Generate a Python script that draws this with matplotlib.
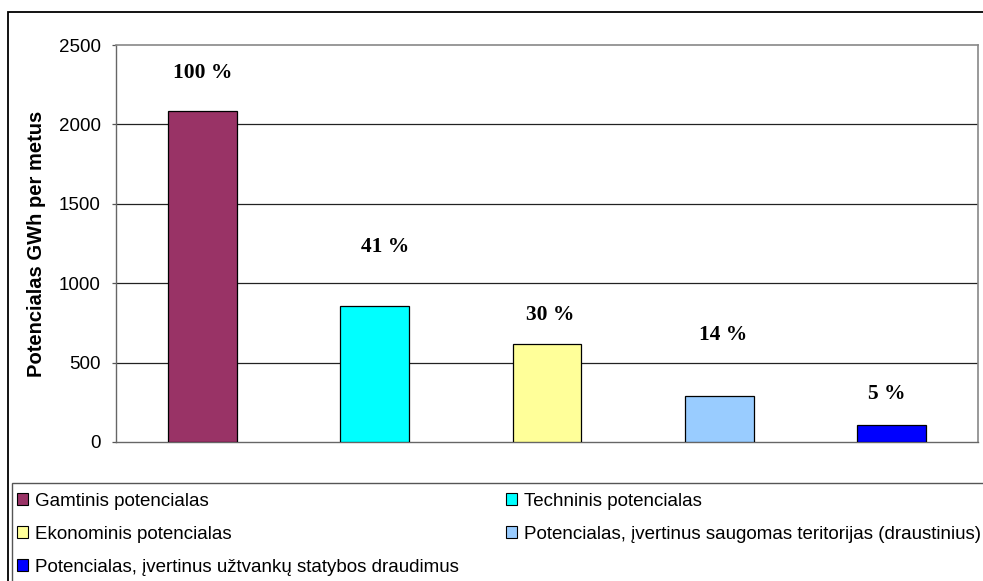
import matplotlib.pyplot as plt
from matplotlib.patches import Patch, Rectangle

# potential of small hydro power, GWh per year
categories = ["Gamtinis potencialas",
              "Techninis potencialas",
              "Ekonominis potencialas",
              "Potencialas, įvertinus saugomas teritorijas (draustinius)",
              "Potencialas, įvertinus užtvankų statybos draudimus"]
values = [2084, 856, 617, 290, 107]
percents = [100, 41, 30, 14, 5]
colors = ["#993366", "#00FFFF", "#FFFF99", "#99CCFF", "#0000FF"]

# where the percent labels sit (x in bar units, y in GWh)
label_x = [0.0, 1.06, 2.02, 3.02, 3.97]
label_y = [2324, 1228, 800, 674, 302]

yticks = [0, 500, 1000, 1500, 2000, 2500]

sans = "Liberation Sans"
serif = "Liberation Serif"

fig = plt.figure(figsize=(9.83, 5.81), dpi=100)
fig.patch.set_facecolor("white")

# outer chart frame and the legend frame, both run off the page
fig.patches.append(Rectangle((8 / 983, -0.1), 1.2, (581 - 12) / 581 + 0.1,
                             transform=fig.transFigure, fill=False,
                             edgecolor="black", lw=1.3, zorder=0))
fig.patches.append(Rectangle((11.5 / 983, -0.1), 1.2, (581 - 483) / 581 + 0.1,
                             transform=fig.transFigure, fill=False,
                             edgecolor="#555555", lw=1.0, zorder=0))

ax = fig.add_axes([116 / 983, (581 - 442) / 581, (978 - 116) / 983, (442 - 45) / 581])

x = range(len(values))
ax.bar(x, values, width=0.4, color=colors, edgecolor="black", linewidth=0.9, zorder=3)

for lx, ly, p in zip(label_x, label_y, percents):
    ax.text(lx, ly, f"{p} %", ha="center", va="center",
            fontfamily=serif, fontweight="bold", fontsize=15.5)

ax.set_xlim(-0.5, 4.5)
ax.set_ylim(0, 2500)
ax.set_yticks(yticks)
ax.set_yticklabels([str(t) for t in yticks], fontfamily=sans, fontsize=13.5)
ax.set_xticks([])
ax.tick_params(axis="y", direction="out", length=3, width=0.9, color="#555555", pad=8)

for t in yticks[1:-1]:
    ax.axhline(t, color="#222222", lw=0.9, zorder=1)

for side in ["top", "right"]:
    ax.spines[side].set_color("#888888")
    ax.spines[side].set_linewidth(1.2)
for side in ["left", "bottom"]:
    ax.spines[side].set_color("#666666")
    ax.spines[side].set_linewidth(1.0)

ax.set_ylabel("Potencialas GWh per metus", fontfamily=sans, fontweight="bold",
              fontsize=14.5, labelpad=9)

handles = [Patch(facecolor=c, edgecolor="black", linewidth=0.8) for c in colors]
leg_kw = dict(frameon=False, loc="upper left", prop={"family": sans, "size": 13.5},
              handlelength=0.6, handleheight=0.6, handletextpad=0.35,
              labelspacing=0.85, borderpad=0, borderaxespad=0)

left_idx = [0, 2, 4]
right_idx = [1, 3]
leg1 = fig.legend([handles[i] for i in left_idx], [categories[i] for i in left_idx],
                  bbox_to_anchor=(17 / 983, 1 - 493 / 581), **leg_kw)
leg2 = fig.legend([handles[i] for i in right_idx], [categories[i] for i in right_idx],
                  bbox_to_anchor=(506 / 983, 1 - 493 / 581), **leg_kw)

fig.savefig("out.png", dpi=100)
